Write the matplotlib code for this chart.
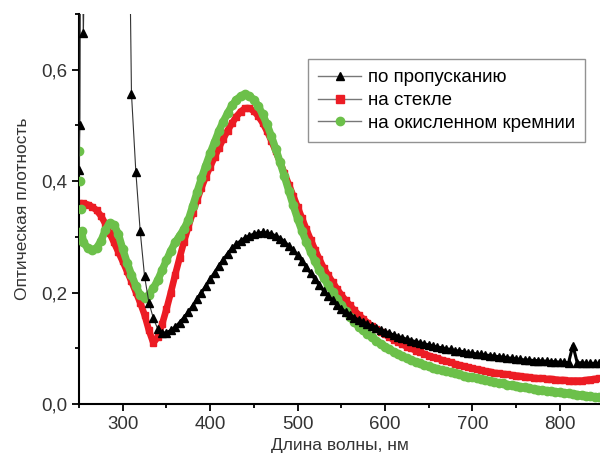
import matplotlib
matplotlib.use('Agg')
import matplotlib.pyplot as plt
from matplotlib.lines import Line2D
from matplotlib.ticker import MultipleLocator, FuncFormatter

plt.rcParams['font.family'] = ['Liberation Sans', 'DejaVu Sans']

# общая сетка длин волн, нм (шаг 5 нм)
wl = list(range(255, 850, 5))

# по пропусканию
black_x0 = [250, 251, 252]
black_y0 = [0.42, 0.50, 0.95]
black_y = [
    0.666, 1.2, 1.6, 1.9, 2.0, 2.0, 2.0, 1.9, 1.7, 1.5, 1.2,              # 255-305
    0.557, 0.417, 0.310, 0.229, 0.182, 0.154, 0.135, 0.127, 0.128,       # 310-350
    0.132, 0.138, 0.146, 0.155, 0.165, 0.176, 0.188, 0.200, 0.212,       # 355-395
    0.224, 0.236, 0.248, 0.259, 0.270, 0.280, 0.287, 0.293, 0.298,       # 400-440
    0.302, 0.305, 0.307, 0.308, 0.307, 0.305, 0.302, 0.297, 0.291,       # 445-485
    0.284, 0.276, 0.267, 0.257, 0.246, 0.235, 0.224, 0.213, 0.203,       # 490-530
    0.194, 0.186, 0.178, 0.171, 0.165, 0.160, 0.155, 0.151, 0.147,       # 535-575
    0.143, 0.140, 0.137, 0.133, 0.130, 0.127, 0.124, 0.121, 0.119,       # 580-620
    0.116, 0.114, 0.112, 0.110, 0.108, 0.106, 0.104, 0.102, 0.101,       # 625-665
    0.099, 0.098, 0.096, 0.095, 0.094, 0.092, 0.091, 0.090, 0.089,       # 670-710
    0.088, 0.087, 0.086, 0.085, 0.084, 0.083, 0.082, 0.081, 0.080,       # 715-755
    0.079, 0.079, 0.078, 0.078, 0.077, 0.077, 0.076, 0.076, 0.075,       # 760-800
    0.075, 0.074, 0.105, 0.074, 0.074, 0.073, 0.073, 0.073, 0.073,       # 805-845
]

# на стекле
red_x0 = [250]
red_y0 = [0.360]
red_y = [
    0.360, 0.358, 0.354, 0.348, 0.338, 0.324, 0.307, 0.290, 0.273,       # 255-295
    0.256, 0.238, 0.220, 0.201, 0.182, 0.160, 0.132, 0.110, 0.120,       # 300-340
    0.143, 0.170, 0.200, 0.232, 0.262, 0.291, 0.318, 0.343, 0.366,       # 345-385
    0.388, 0.408, 0.426, 0.443, 0.460, 0.476, 0.491, 0.504, 0.516,       # 390-430
    0.525, 0.531, 0.531, 0.526, 0.517, 0.505, 0.490, 0.473, 0.454,       # 435-475
    0.434, 0.414, 0.394, 0.374, 0.354, 0.334, 0.314, 0.295, 0.277,       # 480-520
    0.260, 0.244, 0.231, 0.219, 0.207, 0.196, 0.186, 0.177, 0.168,       # 525-565
    0.160, 0.153, 0.146, 0.140, 0.135, 0.130, 0.125, 0.120, 0.115,       # 570-610
    0.111, 0.107, 0.103, 0.100, 0.096, 0.093, 0.090, 0.087, 0.084,       # 615-655
    0.082, 0.079, 0.077, 0.075, 0.072, 0.070, 0.068, 0.066, 0.064,       # 660-700
    0.062, 0.061, 0.059, 0.058, 0.056, 0.055, 0.054, 0.053, 0.052,       # 705-745
    0.051, 0.050, 0.049, 0.048, 0.047, 0.046, 0.046, 0.045, 0.045,       # 750-790
    0.044, 0.043, 0.043, 0.042, 0.042, 0.042, 0.042, 0.043, 0.044,       # 795-835
    0.045, 0.046,                                                        # 840-845
]

# на окисленном кремнии
green_x0 = [250, 251, 252, 253]
green_y0 = [0.455, 0.400, 0.350, 0.310]
green_y = [
    0.290, 0.280, 0.277, 0.280, 0.292, 0.312, 0.325, 0.322, 0.305,       # 255-295
    0.278, 0.254, 0.232, 0.212, 0.196, 0.190, 0.196, 0.208, 0.222,       # 300-340
    0.240, 0.258, 0.275, 0.290, 0.302, 0.314, 0.330, 0.355, 0.380,       # 345-385
    0.405, 0.428, 0.450, 0.470, 0.490, 0.507, 0.522, 0.536, 0.546,       # 390-430
    0.553, 0.556, 0.553, 0.546, 0.535, 0.520, 0.502, 0.481, 0.458,       # 435-475
    0.434, 0.409, 0.383, 0.357, 0.333, 0.311, 0.291, 0.273, 0.256,       # 480-520
    0.240, 0.226, 0.213, 0.201, 0.189, 0.178, 0.167, 0.157, 0.148,       # 525-565
    0.139, 0.132, 0.126, 0.120, 0.114, 0.108, 0.103, 0.098, 0.094,       # 570-610
    0.090, 0.086, 0.082, 0.079, 0.076, 0.073, 0.070, 0.068, 0.065,       # 615-655
    0.063, 0.061, 0.059, 0.057, 0.055, 0.053, 0.051, 0.049, 0.048,       # 660-700
    0.046, 0.045, 0.043, 0.041, 0.040, 0.038, 0.037, 0.035, 0.034,       # 705-745
    0.033, 0.031, 0.030, 0.029, 0.027, 0.026, 0.025, 0.024, 0.023,       # 750-790
    0.022, 0.021, 0.020, 0.019, 0.018, 0.017, 0.016, 0.015, 0.014,       # 795-835
    0.013, 0.012,                                                        # 840-845
]

labels = ['по пропусканию', 'на стекле', 'на окисленном кремнии']
RED = '#ec1c24'
GREEN = '#6cc04a'

bx, by = black_x0 + wl, black_y0 + black_y
rx, ry = red_x0 + wl, red_y0 + red_y
gx, gy = green_x0 + wl, green_y0 + green_y

fig = plt.figure(figsize=(6, 4.62), dpi=100)
ax = fig.add_axes([0.1317, 0.1255, 0.8683, 0.844])

# точки идут плотно и сливаются в полосу
ax.plot(rx, ry, color=RED, lw=4.8, solid_capstyle='round', zorder=2)
ax.plot(rx, ry, ls='none', marker='s', ms=5, mfc=RED, mec=RED, zorder=2)
ax.plot(gx[3:], gy[3:], color=GREEN, lw=5.4, solid_capstyle='round', zorder=3)
ax.plot(gx, gy, ls='none', marker='o', ms=6, mfc=GREEN, mec=GREEN, zorder=3)

k = bx.index(345)
ax.plot(bx, by, color='#333333', lw=0.8, zorder=4)
ax.plot(bx[k:], by[k:], color='black', lw=2.2, zorder=4)
ax.plot(bx, by, ls='none', marker='^', ms=5.5, mfc='black', mec='black', zorder=4)

ax.set_xlim(250, 846)
ax.set_ylim(0, 0.7)

ax.spines['top'].set_visible(False)
ax.spines['right'].set_visible(False)
ax.spines['left'].set_linewidth(1.5)
ax.spines['bottom'].set_linewidth(1.5)

ax.xaxis.set_major_locator(MultipleLocator(100))
ax.xaxis.set_minor_locator(MultipleLocator(50))
ax.yaxis.set_major_locator(MultipleLocator(0.2))
ax.yaxis.set_minor_locator(MultipleLocator(0.1))
ax.yaxis.set_major_formatter(FuncFormatter(lambda v, p: f'{v:.1f}'.replace('.', ',')))
ax.tick_params(which='major', direction='out', length=5, width=1.3,
               labelsize=13.5, labelcolor='#333333')
ax.tick_params(which='minor', direction='out', length=3, width=1.3)

ax.set_xlabel('Длина волны, нм', fontsize=12.5, color='#333333', labelpad=4)
ax.set_ylabel('Оптическая плотность', fontsize=12.5, color='#333333', labelpad=8)

handles = [
    Line2D([], [], color='#777777', lw=1, marker='^', ms=6, mfc='black', mec='black'),
    Line2D([], [], color='#777777', lw=1, marker='s', ms=5.5, mfc=RED, mec=RED),
    Line2D([], [], color='#777777', lw=1, marker='o', ms=6, mfc=GREEN, mec=GREEN),
]
leg = ax.legend(handles, labels,
                loc='upper right', bbox_to_anchor=(0.972, 0.885),
                fontsize=13.5, frameon=True, fancybox=False,
                edgecolor='#777777', handlelength=2.3, handletextpad=0.35,
                labelspacing=0.3, borderpad=0.55, borderaxespad=0)
leg.get_frame().set_linewidth(1.0)

fig.savefig('out.png', dpi=100)
